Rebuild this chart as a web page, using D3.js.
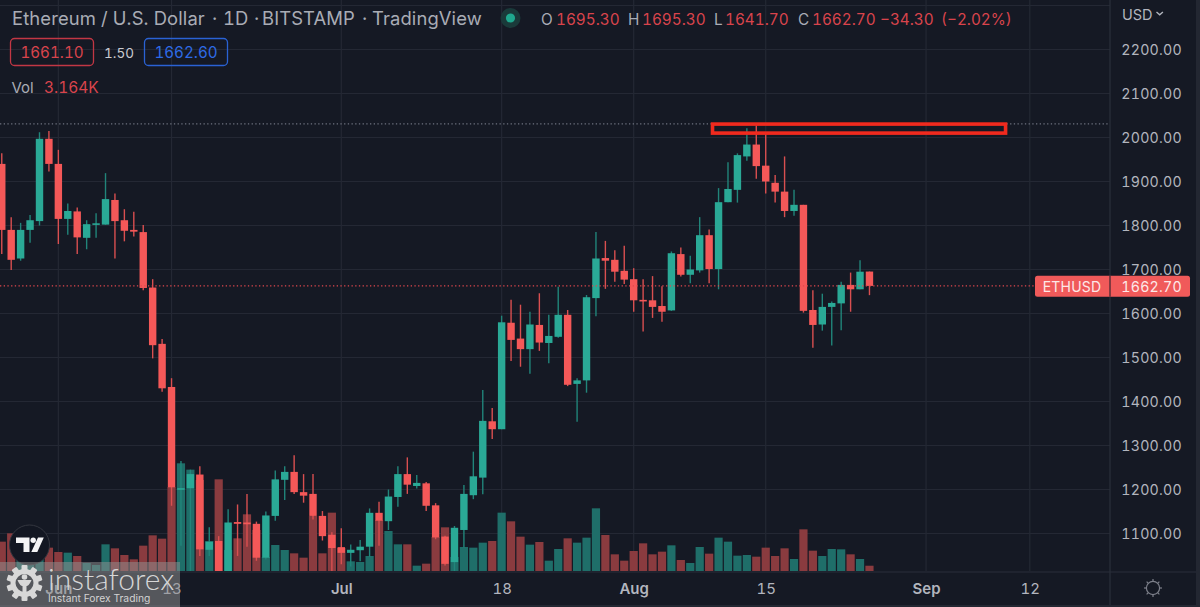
<!DOCTYPE html>
<html>
<head>
<meta charset="utf-8">
<script src="https://cdn.jsdelivr.net/npm/d3@7"></script>
<style>
html,body{margin:0;padding:0;background:#151924;overflow:hidden}
svg{display:block}
text{font-family:Inter,"Noto Sans",sans-serif;font-variant-numeric:tabular-nums;font-feature-settings:"tnum"}
</style>
</head>
<body>
<div id="chart"></div>
<script>
const startDate = "2022-05-26";
const opens  = [1940,1790,1725,1790,1810,1997,1940,1815,1832,1772,1802,1802,1858,1812,1790,1785,1659,1531,1433,1201,1203,1234,1063,1083,990,1126,1125,1122,1045,1140,1222,1240,1194,1190,1140,1097,1069,1056,1062,1070,1147,1128,1183,1235,1208,1214,1164,1093,1035,1108,1187,1227,1355,1337,1579,1543,1519,1574,1533,1547,1597,1440,1448,1635,1726,1722,1697,1678,1631,1630,1617,1607,1735,1688,1698,1778,1701,1853,1881,1957,1984,1936,1897,1877,1833,1847,1608,1575,1615,1623,1665,1655,1695.3];
const highs  = [1964,1819,1806,1824,2012,2015,1972,1850,1841,1812,1828,1919,1873,1837,1831,1801,1678,1542,1453,1265,1245,1253,1114,1094,1155,1166,1190,1127,1150,1243,1253,1278,1235,1235,1151,1103,1112,1075,1085,1157,1172,1200,1253,1273,1233,1217,1169,1095,1117,1210,1286,1426,1385,1595,1631,1620,1604,1646,1597,1661,1608,1453,1642,1785,1765,1744,1754,1703,1678,1685,1662,1741,1750,1731,1819,1791,1885,1944,1964,2021,2028,2010,1915,1957,1881,1847,1653,1645,1627,1672,1693,1721,1695.3];
const lows   = [1735,1699,1720,1761,1800,1923,1758,1779,1735,1746,1772,1802,1725,1764,1775,1653,1498,1422,1163,1072,1000,1049,1049,881,960,1049,1070,1038,1041,1129,1176,1190,1170,1132,1084,1010,1030,1025,1037,1047,1072,1108,1161,1190,1202,1151,1087,1027,1005,1068,1178,1189,1315,1337,1492,1479,1463,1515,1487,1545,1435,1354,1420,1594,1656,1672,1667,1604,1559,1590,1581,1606,1684,1669,1693,1669,1655,1853,1852,1947,1906,1873,1852,1819,1822,1602,1522,1561,1527,1562,1604,1655,1641.7];
const closes = [1790,1722,1790,1812,1997,1940,1815,1833,1773,1803,1805,1860,1810,1788,1786,1658,1528,1430,1205,1203,1235,1064,1081,995,1125,1122,1121,1045,1141,1223,1240,1194,1186,1140,1094,1067,1056,1063,1070,1147,1129,1184,1235,1211,1215,1163,1091,1031,1113,1190,1230,1356,1337,1580,1540,1519,1575,1534,1549,1597,1438,1448,1637,1725,1720,1695,1677,1630,1628,1615,1604,1737,1688,1700,1778,1701,1853,1883,1960,1984,1935,1900,1877,1833,1847,1606,1574,1615,1624,1665,1655,1695,1662.7];
const volumes = [17.6,22.6,11.4,12.6,15,14,11.4,11,9,4.8,3.6,16,13.6,9.6,7,15.2,21.4,19.4,50.4,64.6,60.8,54.6,18,55,12.6,19.6,34,24.6,8.4,15.6,12.6,10.6,8,33,10.6,35,13.8,5.8,5.4,9,30.6,24,16,16,3.2,4.4,20.4,26.2,8.4,14.4,14,17,18,35,29.8,20.6,15.8,17.4,6.2,13.2,19.6,17,20,37.6,21.6,10,6.2,12,16.6,10,11.6,15.4,6.6,4.8,14.4,10.4,20,17.6,9.2,9.6,8.6,14,9,13.6,7.2,25,12.2,9,13.2,13,10,7.2,3.164];
const priceTicks = [2200,2100,2000,1900,1800,1700,1600,1500,1400,1300,1200,1100];
const extraGridPrices = [2300];
const timeTickDates = ["2022-06-01","2022-06-13","2022-07-01","2022-07-18","2022-08-01","2022-08-15","2022-09-01","2022-09-12"];
const timeTickLabels = ["Jun","13","Jul","18","Aug","15","Sep","12"];
const monthLabels = ["Jun","Jul","Aug","Sep"];
const lastPrice = 1662.7;
const swingHighPrice = 2031;
const zonePrices = [2030.5,2010];
const zoneDates = ["2022-08-09","2022-09-09"];
const zoneDaysShift = [0.36,0.43];
const titleParts = [["Ethereum / U.S. Dollar",12],["·",212],["1D",223],["·",254],["BITSTAMP",262],["·",362],["TradingView",372]];
const ohlcParts = [["O",541,"l"],["1695.30",556,"r"],["H",628,"l"],["1695.30",642,"r"],["L",714,"l"],["1641.70",725,"r"],["C",798,"l"],["1662.70",812,"r"],["−34.30",880,"r"],["(−2.02%)",941,"r"]];

const W=1200,H=607,paneR=1110,paneB=572;
const BG="#151924",GRID="#242834",TXT="#b2b5be",RED="#f45858",GREEN="#2aa996",RED_W="#d94f50",GREEN_W="#21857a";
const parse=d3.utcParse("%Y-%m-%d");
const dates=opens.map((_,i)=>d3.utcDay.offset(parse(startDate),i));

const x=d3.scaleUtc().domain([parse("2022-07-01"),parse("2022-09-12")]).range([341.3,1029.8]);
const y=d3.scaleLinear().domain([2200,1100]).range([49.5,533.5]);
const yVol=d3.scaleLinear().domain([0,100]).range([571,404.3]);

const svg=d3.select("#chart").append("svg").attr("width",W).attr("height",H).attr("viewBox",`0 0 ${W} ${H}`);
svg.append("rect").attr("width",W).attr("height",H).attr("fill",BG);
svg.append("defs").append("clipPath").attr("id","pane").append("rect").attr("width",paneR).attr("height",paneB-1);

// grid
const grid=svg.append("g").attr("clip-path","url(#pane)");
grid.selectAll(".h").data(priceTicks.concat(extraGridPrices)).join("line")
  .attr("x1",0).attr("x2",paneR).attr("y1",d=>y(d)).attr("y2",d=>y(d)).attr("stroke",GRID).attr("stroke-width",1.2);
grid.selectAll(".v").data(timeTickDates).join("line")
  .attr("x1",d=>x(parse(d))).attr("x2",d=>x(parse(d))).attr("y1",0).attr("y2",paneB).attr("stroke",GRID).attr("stroke-width",1.2);

const pane=svg.append("g").attr("clip-path","url(#pane)");
// volume
pane.selectAll(".vol").data(volumes).join("rect")
  .attr("x",(d,i)=>x(dates[i])-4.1).attr("width",8.2)
  .attr("y",d=>yVol(d)).attr("height",d=>yVol(0)-yVol(d))
  .attr("fill",(d,i)=>closes[i]>=opens[i]?"#1f6e69":"#8a3b3f");
// wicks
pane.selectAll(".wick").data(opens).join("line")
  .attr("x1",(d,i)=>x(dates[i])).attr("x2",(d,i)=>x(dates[i]))
  .attr("y1",(d,i)=>y(highs[i])).attr("y2",(d,i)=>y(lows[i]))
  .attr("stroke",(d,i)=>closes[i]>=opens[i]?GREEN_W:RED_W).attr("stroke-width",1.4);
// bodies
pane.selectAll(".body").data(opens).join("rect")
  .attr("x",(d,i)=>x(dates[i])-3.7).attr("width",7.4)
  .attr("y",(d,i)=>y(Math.max(opens[i],closes[i])))
  .attr("height",(d,i)=>Math.max(1.6,Math.abs(y(opens[i])-y(closes[i]))))
  .attr("fill",(d,i)=>closes[i]>=opens[i]?GREEN:RED);
// dotted lines
pane.append("line").attr("x1",0).attr("x2",paneR).attr("y1",y(swingHighPrice)).attr("y2",y(swingHighPrice))
  .attr("stroke","#6f7380").attr("stroke-width",1.1).attr("stroke-dasharray","1.3 2.4");
pane.append("line").attr("x1",0).attr("x2",paneR).attr("y1",y(lastPrice)).attr("y2",y(lastPrice))
  .attr("stroke","#e0474d").attr("stroke-width",1.1).attr("stroke-dasharray","1.3 2.4");
// highlighted zone
const zx0=x(parse(zoneDates[0]))+zoneDaysShift[0]*9.431;
const zx1=x(parse(zoneDates[1]))+zoneDaysShift[1]*9.431;
svg.append("rect").attr("x",zx0).attr("width",zx1-zx0)
  .attr("y",y(zonePrices[0])).attr("height",y(zonePrices[1])-y(zonePrices[0]))
  .attr("fill","none").attr("stroke","#f02a1e").attr("stroke-width",3.6);

// frame lines
svg.append("line").attr("x1",paneR).attr("x2",paneR).attr("y1",0).attr("y2",H).attr("stroke","#2b2f3b").attr("stroke-width",1.2);
svg.append("line").attr("x1",0).attr("x2",1196).attr("y1",paneB).attr("y2",paneB).attr("stroke","#2b2f3b").attr("stroke-width",1.2);
svg.append("rect").attr("x",1196).attr("width",4).attr("height",H).attr("fill","#232732");
svg.append("rect").attr("y",605).attr("width",W).attr("height",2).attr("fill","#232732");

// price axis
const yAxis=d3.axisRight(y).tickValues(priceTicks).tickFormat(d3.format(".2f")).tickSize(0).tickPadding(0);
const gy=svg.append("g").attr("transform",`translate(1182,0.6)`).call(yAxis);
gy.select(".domain").remove();
gy.selectAll("text").attr("text-anchor","end").attr("x",0).attr("fill",TXT)
  .style("font-size","14.2px").style("letter-spacing","0.25px").style("font-family","Inter,sans-serif");

// time axis
const xAxis=d3.axisBottom(x).tickValues(timeTickDates.map(parse))
  .tickFormat(d=>timeTickLabels[timeTickDates.indexOf(d3.utcFormat("%Y-%m-%d")(d))]).tickSize(0).tickPadding(0);
const gx=svg.append("g").attr("transform",`translate(0,${paneB+11})`).call(xAxis);
gx.select(".domain").remove();
gx.selectAll("text").attr("fill",TXT).style("font-size","15px").style("font-family","Inter,sans-serif")
  .style("font-weight",function(){return monthLabels.includes(this.textContent)?600:400;});

// USD
svg.append("text").attr("x",1122).attr("y",19.5).attr("fill",TXT).style("font-size","14.5px").text("USD");
svg.append("path").attr("d","M1156.5 12l3.2 2.8 3.2-2.8").attr("fill","none").attr("stroke",TXT).attr("stroke-width",1.4);

// last price tag
svg.append("rect").attr("x",1035).attr("y",275.7).attr("width",155).attr("height",21).attr("rx",2.5).attr("fill","#f05a5a");
svg.append("line").attr("x1",paneR).attr("x2",paneR).attr("y1",275.7).attr("y2",296.7).attr("stroke","#151924").attr("stroke-width",1);
svg.append("text").attr("x",1072).attr("y",291.5).attr("text-anchor","middle").attr("fill","#fde8e8").style("font-size","14px").style("letter-spacing","0.2px").text("ETHUSD");
svg.append("text").attr("x",1182).attr("y",291.5).attr("text-anchor","end").attr("fill","#fde8e8").style("font-size","14.2px").style("letter-spacing","0.25px").text(lastPrice.toFixed(2));

// legend
titleParts.forEach(p=>svg.append("text").attr("x",p[1]).attr("y",24.5).attr("fill","#a9acb5").style("font-size","18.4px").style("letter-spacing","0.12px").text(p[0]));
svg.append("circle").attr("cx",510.5).attr("cy",18).attr("r",10).attr("fill","#1a3a3a");
svg.append("circle").attr("cx",510.5).attr("cy",18).attr("r",4.6).attr("fill","#1fa88e");
ohlcParts.forEach(p=>svg.append("text").attr("x",p[1]).attr("y",24.5)
  .attr("fill",p[2]==="l"?"#a9acb5":"#d9444c").style("font-size","15.3px").text(p[0]));

svg.append("rect").attr("x",10.5).attr("y",38.5).attr("width",83).attr("height",27).attr("rx",4).attr("fill","none").attr("stroke","#c23744").attr("stroke-width",1.3);
svg.append("text").attr("x",52).attr("y",58).attr("text-anchor","middle").attr("fill","#d9444c").style("font-size","15.2px").text("1661.10");
svg.append("text").attr("x",119).attr("y",57.5).attr("text-anchor","middle").attr("fill","#c8cad0").style("font-size","13.5px").text("1.50");
svg.append("rect").attr("x",144.5).attr("y",38.5).attr("width",83).attr("height",27).attr("rx",4).attr("fill","none").attr("stroke","#2a62d4").attr("stroke-width",1.3);
svg.append("text").attr("x",186).attr("y",58).attr("text-anchor","middle").attr("fill","#2e6be6").style("font-size","15.2px").text("1662.60");
svg.append("text").attr("x",11.5).attr("y",92.5).attr("fill","#a9acb5").style("font-size","15px").text("Vol");
svg.append("text").attr("x",44).attr("y",92.5).attr("fill","#d9444c").style("font-size","15.5px").text("3.164K");

// settings icon
const gear=svg.append("g").attr("transform","translate(1153,588)").attr("stroke","#7c7f8a").attr("fill","none").attr("stroke-width",1.2);
gear.append("circle").attr("r",6.6);
d3.range(8).forEach(k=>{const a=k*Math.PI/4;gear.append("line").attr("x1",6.6*Math.cos(a)).attr("y1",6.6*Math.sin(a)).attr("x2",9*Math.cos(a)).attr("y2",9*Math.sin(a));});

// TradingView badge
svg.append("circle").attr("cx",29.5).attr("cy",545).attr("r",20).attr("fill","#131722").attr("stroke","#33363f").attr("stroke-width",1);
svg.append("path").attr("fill","#f4f4f5").attr("d","M16 537.5h13.5v14.5h-6v-9h-7.5zM38 537.5h5.8l-6.5 14.5h-6z");
svg.append("circle").attr("cx",33.2).attr("cy",540.2).attr("r",2.7).attr("fill","#f4f4f5");

// instaforex watermark
svg.append("rect").attr("x",0).attr("y",562).attr("width",180).attr("height",45).attr("fill","#8f8f8f").attr("fill-opacity",0.52);
const wm=svg.append("g").attr("transform","translate(24.5,583)");
d3.range(10).forEach(k=>{wm.append("rect").attr("x",-3).attr("y",-18).attr("width",6).attr("height",7).attr("rx",1).attr("fill","#d8d8d8").attr("transform",`rotate(${k*36})`);});
wm.append("circle").attr("r",11.5).attr("fill","none").attr("stroke","#d8d8d8").attr("stroke-width",5);
wm.append("circle").attr("cy",-6).attr("r",2.8).attr("fill","#d8d8d8");
wm.append("path").attr("d","M-7 -3C-5 2 -3 3 -2 3V17H2V3C3 3 5 2 7 -3").attr("fill","#d8d8d8");
svg.append("text").attr("x",48).attr("y",590).attr("fill","#d6d6d6").style("font-size","30px").style("font-weight",300).style("font-family","Lato,Inter,sans-serif").text("instaforex");
svg.append("text").attr("x",48).attr("y",601.5).attr("fill","#d2d2d2").style("font-size","10.3px").style("font-family","Inter,sans-serif").text("Instant Forex Trading");
</script>
</body>
</html>
